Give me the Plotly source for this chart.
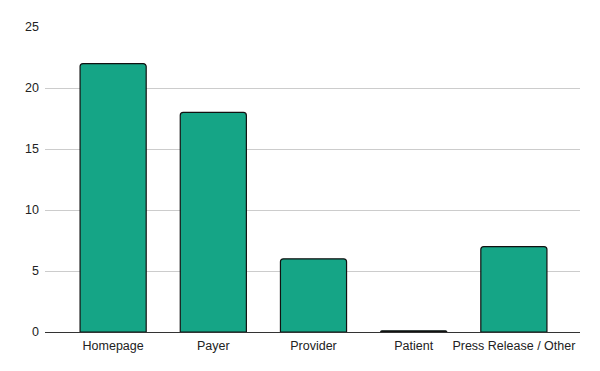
import plotly.graph_objects as go

categories = ["Homepage", "Payer", "Provider", "Patient", "Press Release / Other"]
values = [22, 18, 6, 0.1, 7]
y_ticks = [0, 5, 10, 15, 20, 25]

fig = go.Figure(go.Bar(
    x=categories, y=values,
    marker=dict(color="#15a586", line=dict(color="#111111", width=1.2), cornerradius=3),
    width=0.66,
))
fig.update_layout(
    width=600, height=371,
    margin=dict(l=37, r=28, t=17, b=47),
    paper_bgcolor="white", plot_bgcolor="white",
    font=dict(family="Liberation Sans, Arial, sans-serif", size=12.5, color="#222222"),
    showlegend=False,
)
fig.update_xaxes(
    range=[-0.68, 4.66], showline=True, linecolor="#333333", linewidth=1,
    ticks="", showgrid=False, ticklabelstandoff=2, tickfont=dict(size=12.5, color="#222222"),
)
fig.update_yaxes(
    range=[0, 25], tickvals=y_ticks, showgrid=True, gridcolor="#cccccc", gridwidth=1,
    zeroline=False, ticks="", ticklabelstandoff=5, tickfont=dict(size=12.5, color="#222222"),
)
fig.write_html("out.html")
